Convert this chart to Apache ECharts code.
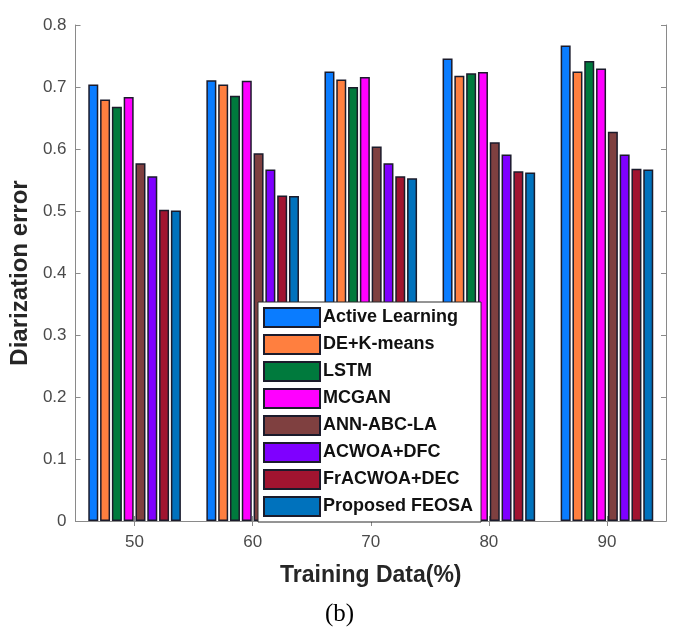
<!DOCTYPE html>
<html>
<head>
<meta charset="utf-8">
<script src="https://cdn.jsdelivr.net/npm/echarts@6/dist/echarts.min.js"></script>
<style>
  html, body { margin: 0; padding: 0; background: #fff; }
  #chart { width: 679px; height: 627px; }
</style>
</head>
<body>
<div id="chart"></div>
<script>
// 数据
var categories = ['50', '60', '70', '80', '90']
var seriesNames = ['Active Learning', 'DE+K-means', 'LSTM', 'MCGAN', 'ANN-ABC-LA', 'ACWOA+DFC', 'FrACWOA+DEC', 'Proposed FEOSA']
var activeLearning = [0.704, 0.711, 0.725, 0.746, 0.767]
var deKmeans = [0.680, 0.704, 0.712, 0.718, 0.725]
var lstm = [0.668, 0.686, 0.700, 0.722, 0.742]
var mcgan = [0.684, 0.710, 0.716, 0.724, 0.730]
var annAbcLa = [0.577, 0.593, 0.604, 0.611, 0.628]
var acwoaDfc = [0.556, 0.567, 0.577, 0.591, 0.591]
var fracwoaDec = [0.502, 0.525, 0.556, 0.564, 0.568]
var proposedFeosa = [0.501, 0.524, 0.553, 0.562, 0.567]
var yTicks = [0, 0.1, 0.2, 0.3, 0.4, 0.5, 0.6, 0.7, 0.8]

var seriesData = [activeLearning, deKmeans, lstm, mcgan, annAbcLa, acwoaDfc, fracwoaDec, proposedFeosa]
var colors = ['#0a7cff', '#ff7f3f', '#007a3d', '#ff00ff', '#7f4040', '#7f00ff', '#a11430', '#0072bd']

var axisGrey = '#8a8a8a'
var labelColor = '#4a4a4a'
var font = 'Liberation Sans, Arial, sans-serif'

var chart = echarts.init(document.getElementById('chart'))

var series = seriesNames.map(function (name, i) {
  return {
    name: name,
    type: 'bar',
    data: seriesData[i],
    barWidth: 10,
    barGap: '18%',
    itemStyle: {
      color: colors[i],
      borderColor: '#1b1b2b',
      borderWidth: 1.5
    },
    animation: false
  }
})

chart.setOption({
  animation: false,
  title: {
    text: '(b)',
    left: 'center',
    top: 597,
    textStyle: {
      fontFamily: 'Liberation Serif, Times New Roman, serif',
      fontWeight: 'normal',
      fontSize: 25,
      color: '#000'
    }
  },
  grid: {
    left: 73,
    right: 13,
    top: 25,
    bottom: 106,
    show: false
  },
  legend: {
    orient: 'vertical',
    left: 258,
    top: 302,
    padding: [5, 8, 5, 5],
    itemWidth: 56,
    itemHeight: 19,
    itemGap: 6,
    icon: 'rect',
    backgroundColor: '#fff',
    borderColor: '#2a2a2a',
    borderWidth: 1,
    textStyle: {
      fontFamily: font,
      fontWeight: 'bold',
      fontSize: 18,
      color: '#111',
      padding: [0, 0, 0, -2]
    },
    data: seriesNames
  },
  xAxis: [
    {
      type: 'category',
      data: categories,
      position: 'bottom',
      axisLine: { show: true, lineStyle: { color: axisGrey, width: 1 } },
      axisTick: { show: true, inside: true, alignWithLabel: true, length: 5, lineStyle: { color: axisGrey } },
      axisLabel: { margin: 13, fontFamily: font, fontSize: 17, color: labelColor },
      name: 'Training Data(%)',
      nameLocation: 'middle',
      nameGap: 43,
      nameTextStyle: { fontFamily: font, fontWeight: 'bold', fontSize: 23, color: '#262626' }
    },
    {
      type: 'category',
      data: categories,
      position: 'top',
      axisLine: { show: true, lineStyle: { color: axisGrey, width: 1 } },
      axisTick: { show: true, inside: true, alignWithLabel: true, length: 5, lineStyle: { color: axisGrey } },
      axisLabel: { show: false }
    }
  ],
  yAxis: [
    {
      type: 'value',
      min: 0,
      max: 0.8,
      interval: 0.1,
      position: 'left',
      splitLine: { show: false },
      axisLine: { show: true, lineStyle: { color: axisGrey, width: 1 } },
      axisTick: { show: true, inside: true, length: 5, lineStyle: { color: axisGrey } },
      axisLabel: {
        margin: 9,
        fontFamily: font,
        fontSize: 17,
        color: labelColor,
        formatter: function (v) {
          return yTicks.indexOf(Math.round(v * 10) / 10) >= 0 ? String(Math.round(v * 10) / 10) : ''
        }
      },
      name: 'Diarization error',
      nameLocation: 'middle',
      nameGap: 40,
      nameRotate: 90,
      nameTextStyle: { fontFamily: font, fontWeight: 'bold', fontSize: 24, color: '#262626' }
    },
    {
      type: 'value',
      min: 0,
      max: 0.8,
      interval: 0.1,
      position: 'right',
      splitLine: { show: false },
      axisLine: { show: true, lineStyle: { color: axisGrey, width: 1 } },
      axisTick: { show: true, inside: true, length: 5, lineStyle: { color: axisGrey } },
      axisLabel: { show: false }
    }
  ],
  series: series
})
</script>
</body>
</html>
